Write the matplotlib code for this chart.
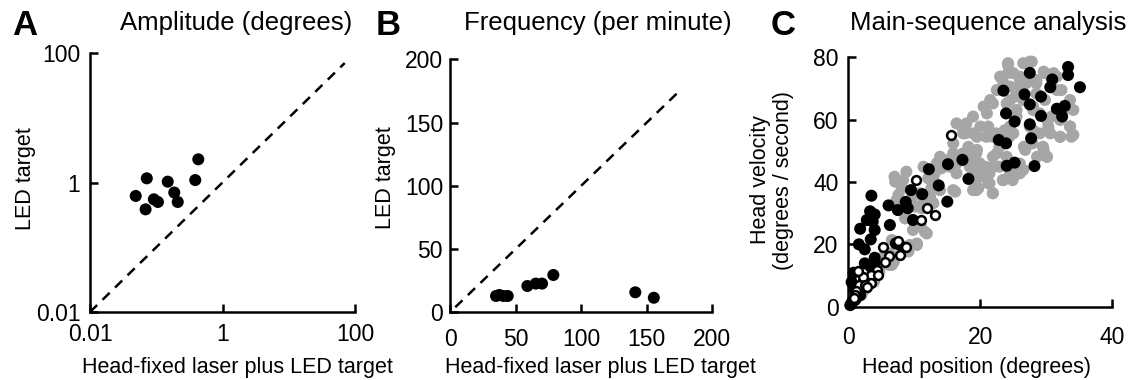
import numpy as np
import matplotlib
matplotlib.use('Agg')
import matplotlib.pyplot as plt

plt.rcParams['font.family'] = ['Liberation Sans', 'DejaVu Sans']

# panel A: amplitude (degrees), log-log
amp_x = [0.049, 0.072, 0.069, 0.092, 0.106, 0.149, 0.187, 0.211, 0.388, 0.431]
amp_y = [0.62, 1.16, 0.385, 0.55, 0.50, 1.03, 0.70, 0.50, 1.09, 2.28]

# panel B: frequency (per minute)
freq_x = [35.1, 37.6, 40.7, 44.0, 59.0, 65.4, 70.2, 78.8, 141.3, 155.4]
freq_y = [12.9, 13.7, 12.9, 12.9, 20.8, 22.7, 22.7, 29.5, 15.8, 11.5]

# panel C: main sequence, three groups
grey_x = [6.6, 7.1, 9.3, 10.4, 11.9, 11.0, 9.8, 10.1, 7.0, 8.8, 8.3, 11.4, 7.3, 10.8,
          12.9, 13.1, 14.1, 16.2, 16.4, 17.2, 17.2, 16.4, 18.9, 19.5, 19.7, 19.2, 21.2,
          21.9, 20.7, 21.9, 22.9, 21.9, 21.2, 21.0, 21.9, 23.5, 24.2, 25.0, 26.5, 27.8,
          26.0, 28.5, 29.6, 31.1, 32.3, 33.6, 34.1, 33.6, 34.1, 32.1, 30.1, 29.5, 29.0,
          27.9, 26.8, 25.8, 26.5, 24.5, 23.5, 22.5, 25.0, 24.5, 25.5, 26.5, 28.0, 27.0,
          29.8, 30.8, 30.3, 32.1, 27.5, 18.9, 18.4, 19.5, 20.0, 18.2, 15.9, 17.7, 15.2,
          13.9, 11.4, 8.6, 9.8, 6.6, 5.3, 6.3, 4.8, 3.8, 3.0, 2.3, 1.5, 1.3, 23.0, 22.5,
          24.5, 21.5, 20.5, 18.9, 17.9,
          24.2, 24.2, 27.5, 26.0, 28.5, 29.8, 31.6, 32.6, 33.6, 32.1, 33.8, 30.1, 30.6,
          29.6, 30.1, 28.6, 26.6, 26.0, 26.0, 24.0, 23.7, 24.0, 25.3, 26.0, 28.5, 31.6,
          29.0, 28.0, 25.5, 24.5, 28.0,
          17.4, 18.9, 20.9, 22.4, 24.4, 15.9, 17.4, 19.4, 18.9, 19.9, 15.4, 16.4, 19.4,
          19.9, 21.4, 21.9, 21.4, 21.9, 23.4, 18.9, 19.4, 15.9, 13.9, 12.9, 13.4, 12.4,
          12.9, 22.9, 24.9,
          7.1, 8.1, 7.6, 9.6, 8.6, 10.1, 11.6, 10.4, 9.1, 6.9, 6.2, 4.7, 3.9, 2.7, 2.0,
          11.1, 12.6, 12.1]
grey_y = [13.4, 16.0, 19.8, 20.3, 23.5, 25.7, 24.6, 32.1, 41.7, 43.3, 40.6, 44.9, 34.2, 36.4,
          38.5, 42.8, 44.4, 36.9, 46.0, 47.6, 57.8, 58.8, 48.1, 50.3, 38.0, 39.0, 39.6,
          36.4, 44.9, 48.1, 51.3, 54.5, 57.8, 62.0, 65.2, 71.7, 77.5, 74.9, 78.1, 78.6,
          72.7, 71.7, 75.4, 74.9, 69.5, 66.3, 63.1, 57.8, 55.1, 54.5, 48.1, 51.3, 55.6,
          52.4, 50.3, 42.8, 43.9, 42.8, 40.6, 49.2, 55.6, 57.8, 63.1, 66.3, 64.2, 71.7,
          66.3, 61.0, 57.8, 59.9, 57.8, 42.8, 44.9, 54.5, 57.8, 51.3, 52.4, 55.6, 47.1,
          48.1, 34.2, 29.9, 27.8, 21.4, 16.0, 17.1, 12.8, 9.6, 7.0, 5.3, 3.7, 2.7, 73.8, 69.5,
          66.3, 66.3, 64.2, 61.0, 58.8,
          78.1, 75.0, 78.6, 73.8, 72.7, 74.9, 73.8, 63.1, 57.8, 54.5, 54.5, 59.9, 55.6,
          50.3, 48.1, 48.1, 51.3, 45.9, 42.8, 48.1, 56.6, 65.2, 67.4, 70.6, 68.4, 69.5,
          62.0, 56.6, 61.0, 70.6, 63.1,
          55.6, 55.6, 54.5, 55.6, 54.5, 49.2, 49.2, 49.2, 46.0, 46.0, 44.9, 42.8, 42.8,
          41.7, 42.8, 44.9, 39.6, 36.4, 40.6, 37.4, 37.4, 37.4, 37.4, 40.6, 46.0, 35.3,
          33.2, 44.9, 40.6,
          40.1, 38.0, 35.9, 34.8, 28.3, 26.2, 24.0, 19.8, 17.7, 14.4, 13.4, 11.3, 8.0, 5.9, 3.8,
          31.6, 38.0, 41.2]

black_x = [27.5, 33.3, 33.3, 35.1, 23.5, 26.7, 29.2, 30.6, 30.9, 27.5, 23.9, 25.2, 29.2,
           31.6, 32.4, 32.8, 27.5, 27.7, 22.8, 23.9, 24.0, 25.2, 28.2, 15.1, 17.3, 18.2,
           12.2, 13.7, 15.0, 9.5, 11.2, 8.7, 7.5, 9.0, 9.8, 6.1, 6.3, 3.5, 3.3, 4.0, 2.8,
           1.8, 3.7, 3.4, 4.0, 1.6, 2.5, 4.0, 2.5, 0.8, 0.5, 1.0, 1.8, 0.6, 0.3, 1.0, 3.4,
           2.4, 4.0, 7.8, 7.2]
black_y = [75.0, 76.9, 74.3, 70.4, 69.3, 68.1, 67.4, 70.4, 72.9, 64.9, 62.0, 59.4, 61.2,
           63.5, 61.0, 64.4, 58.5, 54.0, 53.5, 52.4, 45.2, 46.2, 45.1, 45.7, 47.1, 41.0,
           44.1, 38.9, 33.7, 37.4, 36.1, 33.6, 31.0, 31.6, 27.8, 32.5, 26.2, 35.6, 30.6,
           29.6, 27.8, 25.0, 27.3, 21.6, 24.6, 20.0, 18.4, 15.7, 13.9, 10.9, 7.9, 5.3, 3.7,
           1.6, 0.5, 2.1, 12.8, 8.6, 13.9, 19.8, 20.3]

open_x = [15.6, 10.2, 11.9, 11.0, 13.2, 7.5, 8.8, 7.9, 5.2, 6.2, 5.6, 4.3, 3.5, 3.4, 2.3,
          1.4, 1.6, 1.1, 1.0, 0.8, 2.5, 2.8, 4.5]
open_y = [55.1, 40.5, 31.7, 27.7, 29.3, 21.2, 19.1, 16.6, 19.1, 16.4, 14.4, 11.8, 10.2, 7.7,
          9.6, 11.6, 7.0, 5.1, 3.7, 2.7, 7.0, 6.2, 10.2]

W, H = 1136, 380
fig = plt.figure(figsize=(W / 100, H / 100), dpi=100)


def box(l, t, r, b):
    return [l / W, 1 - b / H, (r - l) / W, (b - t) / H]


def style(ax, xpad, ypad):
    for s in ['top', 'right']:
        ax.spines[s].set_visible(False)
    for s in ['left', 'bottom']:
        ax.spines[s].set_linewidth(1.8)
    ax.tick_params(direction='in', length=6, width=1.8, labelsize=16.5)
    ax.tick_params(axis='x', pad=xpad)
    ax.tick_params(axis='y', pad=ypad)
    ax.minorticks_off()


dot = dict(s=75, color='black', edgecolor='none', clip_on=False, zorder=3)
dash = dict(color='black', lw=1.8, ls=(0, (4, 3)))

# A
axA = fig.add_axes(box(90, 53, 355, 312))
axA.set_xscale('log')
axA.set_yscale('log')
axA.set_xlim(0.01, 100)
axA.set_ylim(0.01, 100)
axA.plot([0.01, 70], [0.01, 70], **dash)
axA.scatter(amp_x, amp_y, **dot)
axA.set_xticks([0.01, 1, 100])
axA.set_xticklabels(['0.01', '1', '100'])
axA.set_yticks([0.01, 1, 100])
axA.set_yticklabels(['0.01', '1', '100'])
style(axA, 8, 7)

# B
axB = fig.add_axes(box(450, 59.3, 712.3, 312.3))
axB.set_xlim(0, 200)
axB.set_ylim(0, 200)
axB.plot([4, 175], [4, 175], **dash)
axB.scatter(freq_x, freq_y, **dot)
axB.set_xticks([0, 50, 100, 150, 200])
axB.set_yticks([0, 50, 100, 150, 200])
style(axB, 11, 5)

# C
axC = fig.add_axes(box(848.3, 57.3, 1112.3, 306.7))
axC.set_xlim(0, 40)
axC.set_ylim(0, 80)
axC.scatter(grey_x, grey_y, s=75, color='#a6a6a6', edgecolor='none', clip_on=False, zorder=2)
axC.scatter(black_x, black_y, **dot)
axC.scatter(open_x, open_y, s=40, facecolor='white', edgecolor='black', linewidth=1.8,
            clip_on=False, zorder=4)
axC.set_xticks([0, 20, 40])
axC.set_yticks([0, 20, 40, 60, 80])
style(axC, 14, 7)


def ftext(x, y, s, **kw):
    fig.text(x / W, 1 - y / H, s, **kw)


# panel letters and titles
ftext(12, 35, 'A', fontsize=25, fontweight='bold', ha='left', va='baseline')
ftext(376, 35, 'B', fontsize=25, fontweight='bold', ha='left', va='baseline')
ftext(771, 35, 'C', fontsize=25, fontweight='bold', ha='left', va='baseline')
ftext(236, 30, 'Amplitude (degrees)', fontsize=18.5, ha='center', va='baseline')
ftext(598, 30, 'Frequency (per minute)', fontsize=18.5, ha='center', va='baseline')
ftext(988, 30, 'Main-sequence analysis', fontsize=18.5, ha='center', va='baseline')

# axis labels
ftext(237, 368, 'Head-fixed laser plus LED target', fontsize=15.5, ha='center', va='center')
ftext(600, 368, 'Head-fixed laser plus LED target', fontsize=15.5, ha='center', va='center')
ftext(977, 368, 'Head position (degrees)', fontsize=15.5, ha='center', va='center')
ftext(25, 179, 'LED target', fontsize=15.5, ha='center', va='center', rotation=90)
ftext(386, 178, 'LED target', fontsize=15.5, ha='center', va='center', rotation=90)
ftext(772, 180, 'Head velocity\n(degrees / second)', fontsize=15.5, ha='center', va='center',
      rotation=90, linespacing=1.1)

fig.savefig('out.png', dpi=100)
